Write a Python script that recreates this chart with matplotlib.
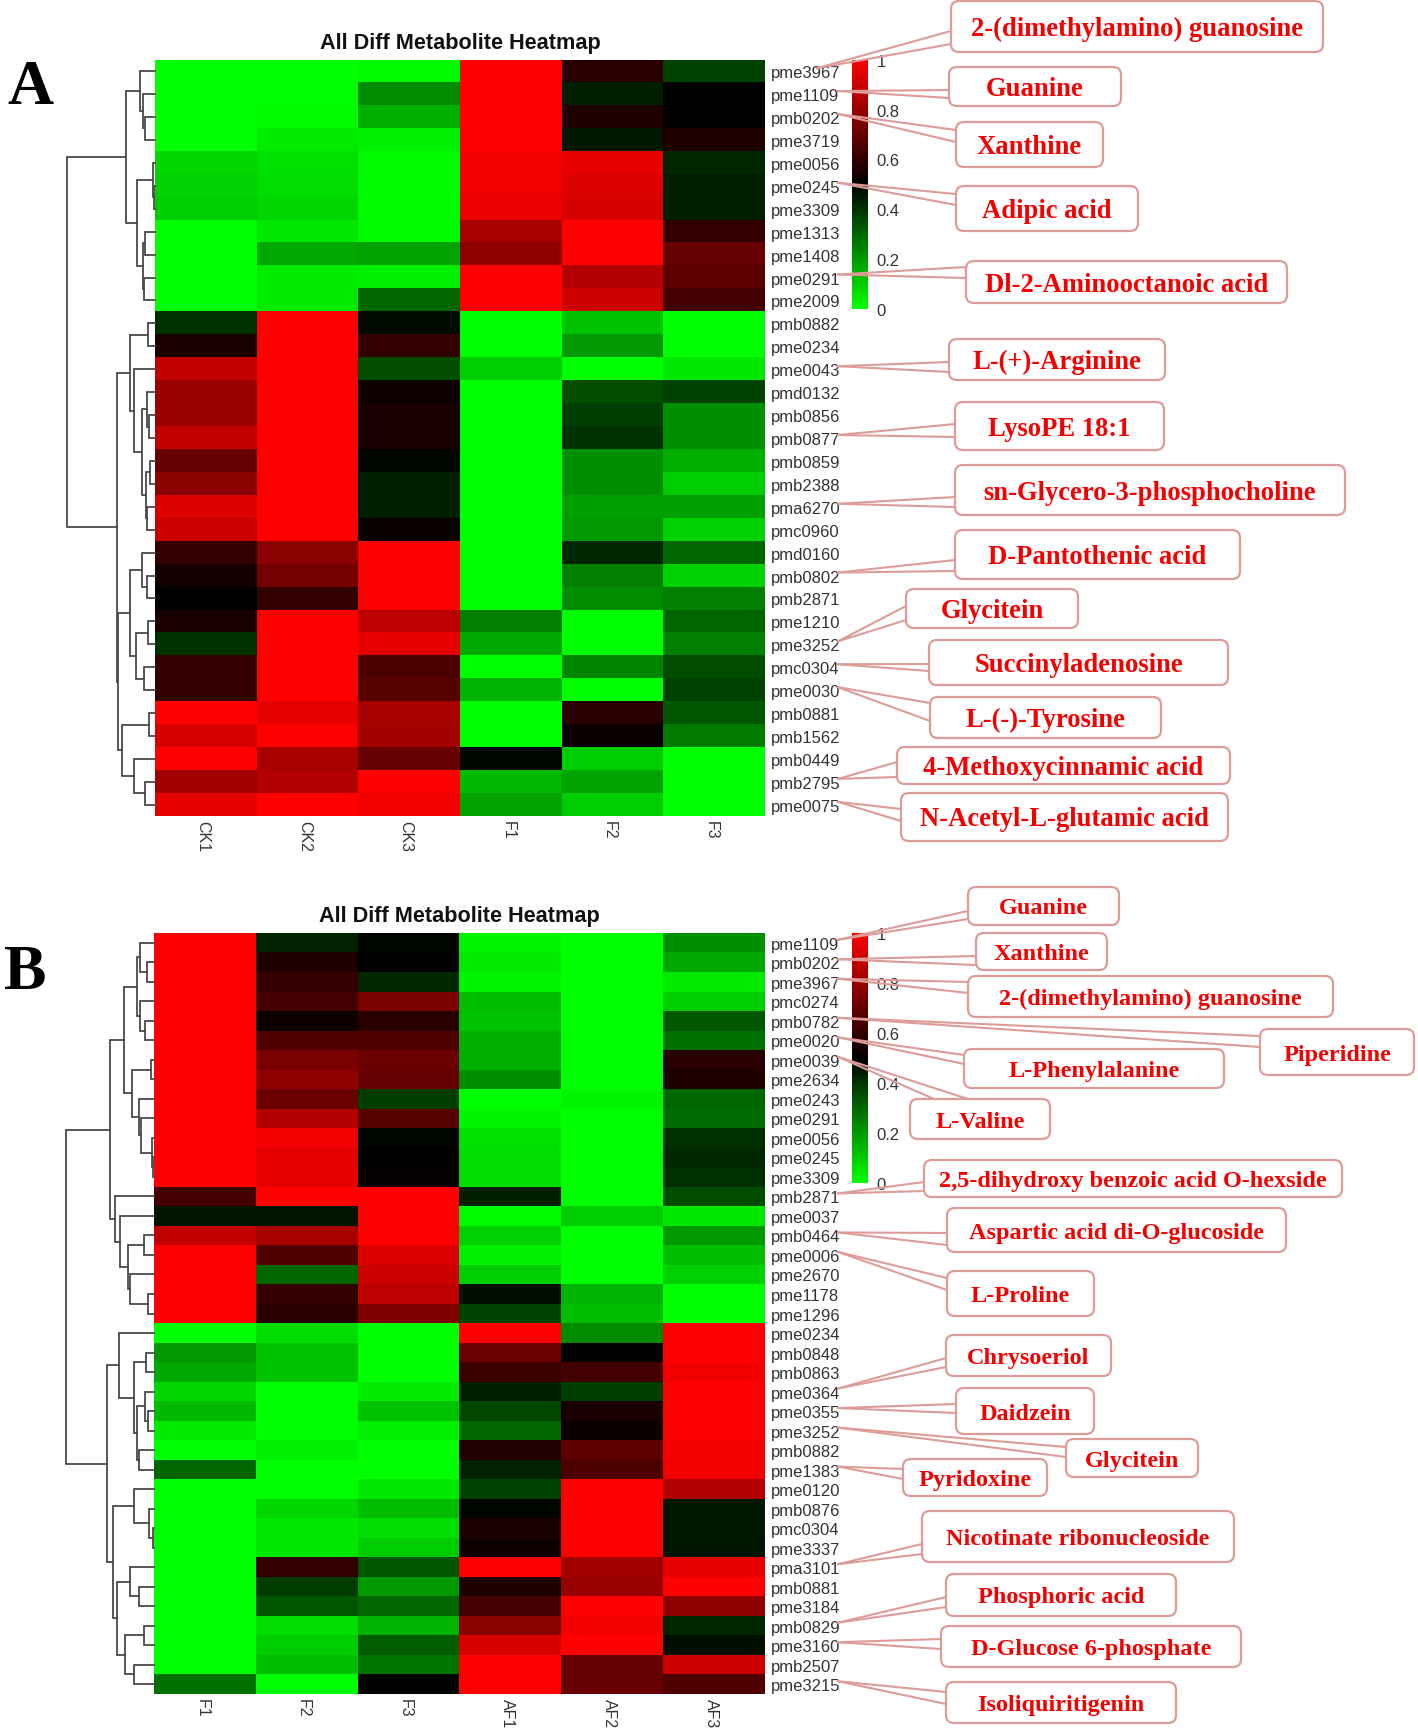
import numpy as np
import matplotlib
matplotlib.use('Agg')
import matplotlib.pyplot as plt
from matplotlib.colors import LinearSegmentedColormap
from matplotlib.patches import FancyBboxPatch
from matplotlib.transforms import ScaledTranslation

W, H = 1418, 1733
plt.rcParams['font.family'] = ['Liberation Sans', 'DejaVu Sans']

# ---- panel A data
samples_a = ['CK1', 'CK2', 'CK3', 'F1', 'F2', 'F3']
rows_a = ['pme3967', 'pme1109', 'pmb0202', 'pme3719', 'pme0056', 'pme0245', 'pme3309',
          'pme1313', 'pme1408', 'pme0291', 'pme2009', 'pmb0882', 'pme0234', 'pme0043',
          'pmd0132', 'pmb0856', 'pmb0877', 'pmb0859', 'pmb2388', 'pma6270', 'pmc0960',
          'pmd0160', 'pmb0802', 'pmb2871', 'pme1210', 'pme3252', 'pmc0304', 'pme0030',
          'pmb0881', 'pmb1562', 'pmb0449', 'pmb2795', 'pme0075']
heat_a = [
    [0, 0, .01, 1, .58, .37],
    [0, 0, .23, 1, .44, .5],
    [0, .01, .16, 1, .56, .5],
    [0, .04, .03, 1, .45, .56],
    [.08, .06, .01, .97, .95, .42],
    [.09, .07, .01, .97, .93, .44],
    [.1, .08, .01, .96, .92, .44],
    [0, .05, .01, .83, 1, .6],
    [0, .17, .18, .78, 1, .7],
    [0, .04, .03, 1, .85, .68],
    [0, .04, .3, .99, .9, .63],
    [.41, 1, .48, 0, .12, 0],
    [.55, 1, .6, 0, .2, 0],
    [.88, 1, .35, .1, 0, .05],
    [.8, 1, .53, 0, .35, .37],
    [.8, 1, .55, 0, .38, .22],
    [.88, 1, .55, 0, .4, .22],
    [.7, 1, .49, 0, .22, .16],
    [.77, 1, .44, 0, .22, .1],
    [.93, 1, .44, 0, .19, .19],
    [.9, 1, .52, 0, .2, .09],
    [.6, .77, 1, 0, .42, .3],
    [.54, .73, 1, 0, .25, .09],
    [.5, .6, 1, 0, .23, .25],
    [.55, 1, .87, .25, 0, .3],
    [.4, 1, .95, .17, 0, .25],
    [.6, 1, .65, 0, .24, .35],
    [.6, 1, .67, .15, 0, .37],
    [1, .95, .83, 0, .58, .33],
    [.92, 1, .82, 0, .52, .26],
    [1, .83, .7, .49, .1, 0],
    [.82, .85, 1, .14, .18, 0],
    [.95, 1, .97, .18, .1, 0],
]
# tree nodes are [distance, child, child], a plain int is a row
tree_a = [88,
          [29,
           [15, 0, [12, 1, [10, 2, 3]]],
           [18, [2, 4, [1, 5, 6]], [12, [10, 7, 8], [11, 9, 10]]]],
          [38,
           [25, [7, 11, 12],
            [21, 13, [13, [8, 14, [6, 15, 16]], [9, [5, 17, 18], [8, 19, 20]]]]],
           [37,
            [25, [13, 21, [8, 22, 23]], [19, [7, 24, 25], [11, 26, 27]]],
            [33, [6, 28, 29], [21, 30, [10, 31, 32]]]]]]

# ---- panel B data
samples_b = ['F1', 'F2', 'F3', 'AF1', 'AF2', 'AF3']
rows_b = ['pme1109', 'pmb0202', 'pme3967', 'pmc0274', 'pmb0782', 'pme0020', 'pme0039',
          'pme2634', 'pme0243', 'pme0291', 'pme0056', 'pme0245', 'pme3309', 'pmb2871',
          'pme0037', 'pmb0464', 'pme0006', 'pme2670', 'pme1178', 'pme1296', 'pme0234',
          'pmb0848', 'pmb0863', 'pme0364', 'pme0355', 'pme3252', 'pmb0882', 'pme1383',
          'pme0120', 'pmb0876', 'pmc0304', 'pme3337', 'pma3101', 'pmb0881', 'pme3184',
          'pmb0829', 'pme3160', 'pmb2507', 'pme3215']
heat_b = [
    [1, .43, .49, .02, 0, .22],
    [1, .56, .5, .04, 0, .17],
    [1, .6, .42, .02, 0, .04],
    [1, .63, .74, .13, 0, .1],
    [1, .53, .58, .12, 0, .33],
    [1, .66, .66, .16, 0, .28],
    [1, .74, .71, .16, 0, .58],
    [1, .78, .7, .22, 0, .56],
    [1, .71, .38, 0, .02, .3],
    [1, .85, .67, .02, 0, .29],
    [1, .98, .49, .06, 0, .41],
    [1, .95, .5, .07, 0, .42],
    [1, .95, .51, .07, 0, .41],
    [.63, 1, 1, .44, 0, .35],
    [.46, .46, 1, .01, .1, .05],
    [.88, .83, 1, .09, 0, .2],
    [1, .66, .93, .03, 0, .13],
    [1, .3, .9, .1, 0, .09],
    [1, .6, .87, .47, .15, 0],
    [1, .58, .75, .37, .13, 0],
    [0, .07, 0, 1, .23, 1],
    [.2, .12, 0, .71, .5, 1],
    [.17, .12, 0, .62, .63, .98],
    [.08, 0, .04, .44, .38, 1],
    [.14, 0, .12, .36, .55, 1],
    [.04, 0, .03, .3, .52, 1],
    [0, .03, 0, .57, .68, .98],
    [.3, 0, 0, .43, .65, .98],
    [0, 0, .05, .37, 1, .85],
    [0, .08, .13, .49, 1, .45],
    [0, .05, .07, .55, 1, .45],
    [0, .05, .1, .53, 1, .46],
    [0, .6, .33, 1, .82, .95],
    [0, .38, .2, .56, .8, 1],
    [0, .33, .3, .63, 1, .78],
    [0, .07, .15, .77, .98, .42],
    [0, .1, .32, .92, 1, .47],
    [0, .13, .27, 1, .7, .9],
    [.28, 0, .5, 1, .7, .66],
]
tree_b = [88,
          [44,
           [30,
            [17, [14, 0, [7, 1, 2]], [14, 3, [9, 4, 5]]],
            [22, [3, 6, 7], [15, 8, [13, 9, [2, 10, [1, 11, 12]]]]]],
           [39, 13, [34, 14, [26, [10, 15, 16], [24, 17, [6, 18, 19]]]]]],
          [47,
           [35, 20, [20, [8, 21, 22], [17, [9, 23, [6, 24, 25]], [15, 26, 27]]]],
           [41,
            [20, 28, [5, 29, [1, 30, 31]]],
            [37, [24, 32, [15, 33, 34]], [29, [10, 35, 36], [20, 37, 38]]]]]]

cbar_ticks = [0, 0.2, 0.4, 0.6, 0.8, 1]
cbar_labels = ['0', '0.2', '0.4', '0.6', '0.8', '1']

# callouts: name, row it points at, box (x0, y0, x1, y1), the two wedge feet, in pixels
callouts_a = [
    ('2-(dimethylamino) guanosine', 'pme3967', (951, 2, 1323, 53), ((951, 32), (951, 45))),
    ('Guanine', 'pme1109', (949, 68, 1121, 107), ((949, 91), (949, 99))),
    ('Xanthine', 'pmb0202', (956, 123, 1103, 168), ((956, 131), (956, 143))),
    ('Adipic acid', 'pme0245', (956, 187, 1138, 232), ((956, 195), (956, 206))),
    ('Dl-2-Aminooctanoic acid', 'pme0291', (966, 262, 1287, 304), ((966, 268), (966, 279))),
    ('L-(+)-Arginine', 'pme0043', (949, 340, 1165, 381), ((949, 363), (949, 373))),
    ('LysoPE 18:1', 'pmb0877', (955, 403, 1164, 451), ((955, 425), (955, 438))),
    ('sn-Glycero-3-phosphocholine', 'pma6270', (955, 466, 1345, 516), ((955, 498), (955, 508))),
    ('D-Pantothenic acid', 'pmb0802', (955, 531, 1240, 580), ((955, 561), (955, 572))),
    ('Glycitein', 'pme3252', (906, 590, 1078, 629), ((906, 607), (906, 621))),
    ('Succinyladenosine', 'pmc0304', (929, 641, 1228, 686), ((929, 665), (929, 672))),
    ('L-(-)-Tyrosine', 'pme0030', (930, 698, 1161, 739), ((930, 704), (930, 722))),
    ('4-Methoxycinnamic acid', 'pmb2795', (897, 748, 1230, 785), ((897, 763), (897, 778))),
    ('N-Acetyl-L-glutamic acid', 'pme0075', (901, 794, 1228, 842), ((901, 810), (901, 822))),
]
callouts_b = [
    ('Guanine', 'pme1109', (968, 888, 1119, 926), ((968, 912), (968, 920))),
    ('Xanthine', 'pmb0202', (976, 934, 1107, 971), ((976, 957), (976, 966))),
    ('2-(dimethylamino) guanosine', 'pme3967', (968, 977, 1333, 1018), ((968, 983), (968, 994))),
    ('Piperidine', 'pmb0782', (1260, 1030, 1414, 1076), ((1260, 1037), (1260, 1048))),
    ('L-Phenylalanine', 'pme0020', (964, 1050, 1224, 1089), ((964, 1056), (964, 1065))),
    ('L-Valine', 'pme0039', (910, 1100, 1050, 1140), ((934, 1100), (968, 1100))),
    ('2,5-dihydroxy benzoic acid O-hexside', 'pmb2871', (924, 1161, 1342, 1198), ((924, 1183), (924, 1192))),
    ('Aspartic acid di-O-glucoside', 'pmb0464', (947, 1209, 1286, 1253), ((947, 1234), (947, 1246))),
    ('L-Proline', 'pme0006', (947, 1272, 1094, 1317), ((947, 1279), (947, 1291))),
    ('Chrysoeriol', 'pme0364', (946, 1336, 1111, 1377), ((946, 1359), (946, 1368))),
    ('Daidzein', 'pme0355', (956, 1389, 1094, 1435), ((956, 1405), (956, 1414))),
    ('Glycitein', 'pme3252', (1066, 1440, 1198, 1478), ((1066, 1448), (1066, 1458))),
    ('Pyridoxine', 'pme1383', (903, 1460, 1047, 1497), ((903, 1470), (903, 1480))),
    ('Nicotinate ribonucleoside', 'pma3101', (922, 1512, 1234, 1563), ((922, 1545), (922, 1555))),
    ('Phosphoric acid', 'pmb0829', (946, 1575, 1176, 1617), ((946, 1598), (946, 1608))),
    ('D-Glucose 6-phosphate', 'pme3160', (941, 1627, 1241, 1668), ((941, 1640), (941, 1650))),
    ('Isoliquiritigenin', 'pme3215', (946, 1683, 1176, 1724), ((946, 1693), (946, 1705))),
]

gbr = LinearSegmentedColormap.from_list('gbr', ['#00ff00', '#000000', '#ff0000'])
fig = plt.figure(figsize=(W / 100, H / 100), dpi=100)


def px_axes(x0, y0, x1, y1):
    # axes from pixel box, y counted from the top
    return fig.add_axes([x0 / W, 1 - y1 / H, (x1 - x0) / W, (y1 - y0) / H])


def draw_tree(ax, node):
    if not isinstance(node, list):
        return node + 0.5, 0
    d, left, right = node
    y1, d1 = draw_tree(ax, left)
    y2, d2 = draw_tree(ax, right)
    ax.plot([d1, d, d, d2], [y1, y1, y2, y2], color='#4a4a4a', lw=1.3,
            solid_joinstyle='miter', clip_on=False)
    return (y1 + y2) / 2, d


def panel(letter, letter_xy, title_y, box, cbar_box, samples, rows, values, tree):
    x0, y0, x1, y1 = box
    values = np.array(values)
    ax = px_axes(x0, y0, x1, y1)
    im = ax.imshow(values, cmap=gbr, vmin=0, vmax=1, aspect='auto',
                   interpolation='nearest', extent=(0, len(samples), len(rows), 0))
    for s in ax.spines.values():
        s.set_visible(False)
    ax.set_xticks(np.arange(len(samples)) + 0.5, samples, rotation=270, fontsize=11.5, color='#333333')
    ax.set_yticks(np.arange(len(rows)) + 0.5, rows, fontsize=12, color='#333333')
    ax.yaxis.tick_right()
    ax.tick_params(length=0, pad=4)
    ax.tick_params(axis='x', pad=3)
    shift = ScaledTranslation(-3 / 100, 0, fig.dpi_scale_trans)
    for t in ax.get_xticklabels():
        t.set_transform(t.get_transform() + shift)

    dax = px_axes(x0 - 100, y0, x0, y1)
    draw_tree(dax, tree)
    dax.set_xlim(100, 0)
    dax.set_ylim(len(rows), 0)
    dax.axis('off')

    cax = px_axes(*cbar_box)
    cb = fig.colorbar(im, cax=cax)
    cb.outline.set_visible(False)
    cb.set_ticks(cbar_ticks, labels=cbar_labels)
    cb.ax.tick_params(length=0, pad=6, labelsize=12, labelcolor='#333333')

    fig.text((x0 + x1) / 2 / W, 1 - title_y / H, 'All Diff Metabolite Heatmap', ha='center',
             va='center', fontsize=15.6, fontweight='bold', color='#111111')
    fig.text(letter_xy[0] / W, 1 - letter_xy[1] / H, letter, ha='left', va='baseline', fontsize=46,
             fontweight='bold', family=['Liberation Serif', 'DejaVu Serif'], color='black')


panel('A', (7, 104), 43, (155, 60.7, 765, 817.3), (851.5, 60.7, 868, 310),
      samples_a, rows_a, heat_a, tree_a)
panel('B', (4, 989), 917, (154, 934, 765, 1695), (851.5, 934, 868, 1184),
      samples_b, rows_b, heat_b, tree_b)

# overlay in pixels for the callout boxes
over = fig.add_axes([0, 0, 1, 1], facecolor='none')
over.set_xlim(0, W)
over.set_ylim(H, 0)
over.axis('off')
edge = '#dd9c98'


def draw_callouts(callouts, rows, y0, y1, size, tip_over):
    row_h = (y1 - y0) / len(rows)
    for name, row, (bx0, by0, bx1, by1), feet in callouts:
        tip_y = y0 + (rows.index(row) + 0.5) * row_h - 3
        tip_x = tip_over.get(row, 838)
        for fx, fy in feet:
            over.plot([tip_x, fx], [tip_y, fy], color=edge, lw=1.5, zorder=2)
        over.add_patch(FancyBboxPatch((bx0, by0), bx1 - bx0, by1 - by0,
                                      boxstyle='round,pad=0,rounding_size=8', fc='white',
                                      ec=edge, lw=1.6, zorder=3))
        over.text((bx0 + bx1) / 2, (by0 + by1) / 2 + 2, name, ha='center', va='center', color='#f40000',
                  fontsize=size, fontweight='bold', family=['Liberation Serif', 'DejaVu Serif'], zorder=4)


draw_callouts(callouts_a, rows_a, 60.7, 817.3, 19.2, {'pme3967': 817})
draw_callouts(callouts_b, rows_b, 934, 1695, 17.5, {})

fig.savefig('out.png', dpi=100)
